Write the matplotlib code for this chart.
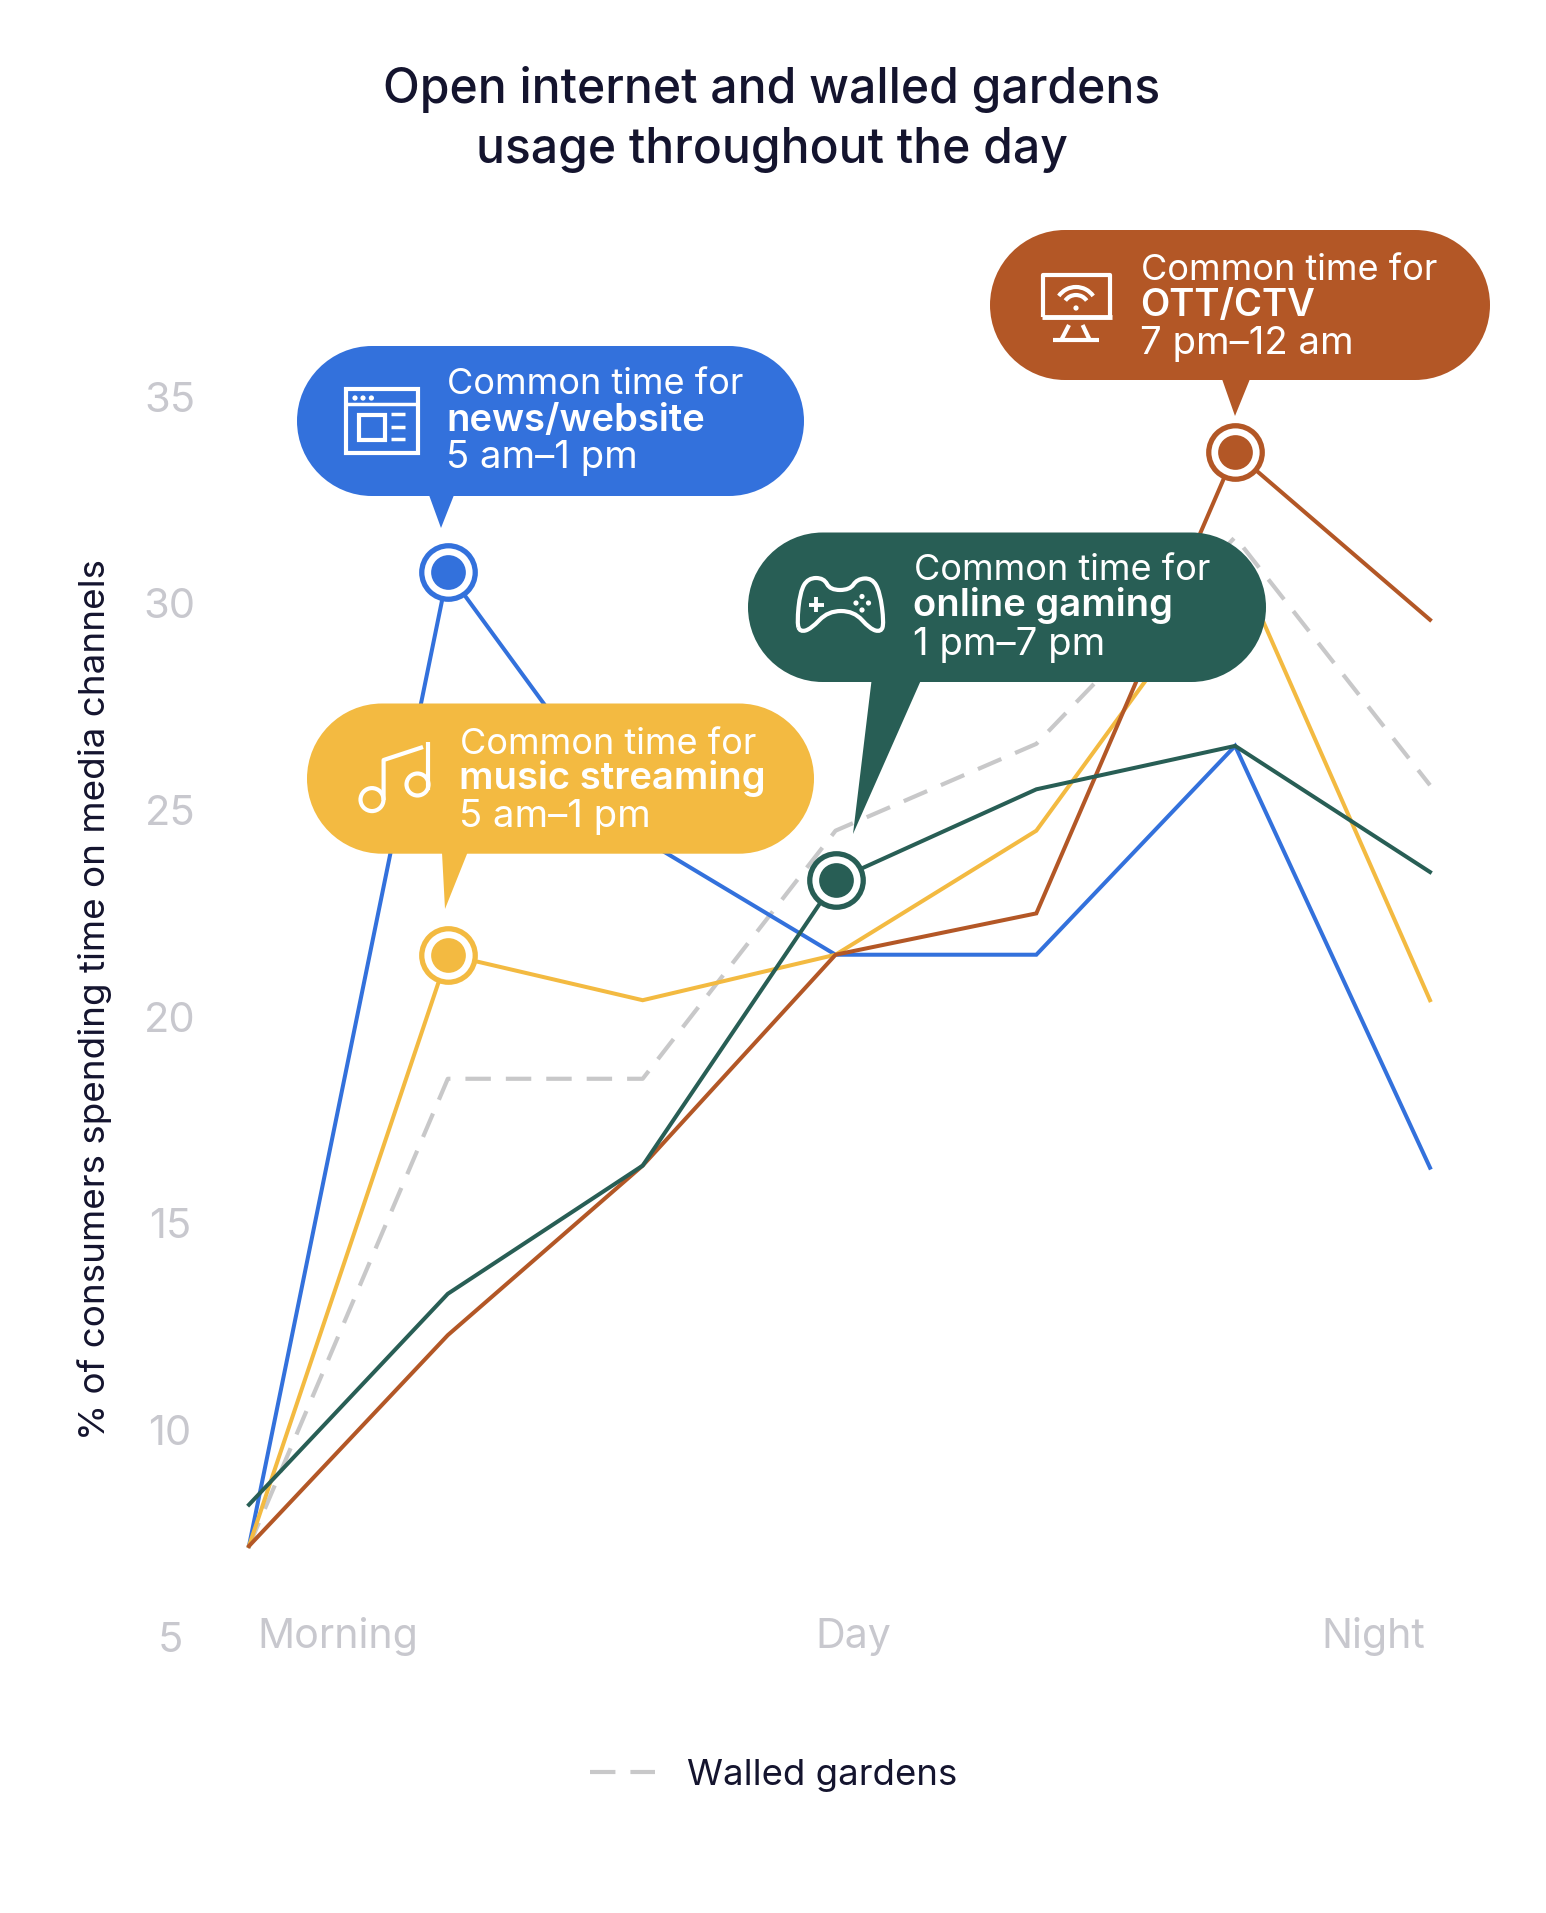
import numpy as np
import matplotlib
matplotlib.use('Agg')
import matplotlib.pyplot as plt
from matplotlib.patches import PathPatch, Polygon, Rectangle, Circle, Arc
from matplotlib.path import Path

W, H = 1546, 1913

# values
slots = [0, 1.01, 2, 2.98, 4, 5.01, 6]
news = [7.2, 30.75, 24.3, 21.5, 21.5, 26.55, 16.35]
music = [7.2, 21.5, 20.4, 21.5, 24.5, 31.1, 20.4]
gaming = [8.2, 13.3, 16.4, 23.3, 25.5, 26.55, 23.5]
ott = [7.2, 12.3, 16.4, 21.5, 22.5, 33.65, 29.6]
walled = [7.2, 18.5, 18.5, 24.5, 26.6, 31.6, 25.6]
y_ticks = [5, 10, 15, 20, 25, 30, 35]
x_labels = ['Morning', 'Day', 'Night']
x_label_pos = [0.452, 3.07, 5.71]

BLUE = '#3371DC'
YELLOW = '#F3BA41'
BROWN = '#B35726'
GREEN = '#285E55'
GRAY = '#C8C8C9'
TICK = '#C8C8CE'
DARK = '#14142E'

plt.rcParams['font.family'] = ['Inter', 'DejaVu Sans']

fig = plt.figure(figsize=(W / 100, H / 100), dpi=100, facecolor='white')
left, right, top, bottom = 249, 1430, 396.5, 1637
ax = fig.add_axes([left / W, 1 - bottom / H, (right - left) / W, (bottom - top) / H])
ax.set_xlim(0, 6)
ax.set_ylim(5, 35)
for s in ax.spines.values():
    s.set_visible(False)

ax.plot(slots, walled, color=GRAY, lw=3, dashes=(6.1, 3.6), clip_on=False, label='Walled gardens')
for vals, col in [(news, BLUE), (music, YELLOW), (ott, BROWN), (gaming, GREEN)]:
    ax.plot(slots, vals, color=col, lw=2.9, clip_on=False, solid_joinstyle='miter')

# ring markers at each peak
for i, vals, col in [(1, news, BLUE), (1, music, YELLOW), (3, gaming, GREEN), (5, ott, BROWN)]:
    ax.plot(slots[i], vals[i], 'o', ms=38.5, mfc='white', mec=col, mew=3.8, zorder=5, clip_on=False)
    ax.plot(slots[i], vals[i], 'o', ms=25, mfc=col, mec='none', zorder=6, clip_on=False)

ax.set_yticks(y_ticks)
ax.set_xticks(x_label_pos)
ax.set_xticklabels(x_labels)
ax.tick_params(axis='both', length=0, labelcolor=TICK)
ax.tick_params(axis='y', pad=57, labelsize=30)
ax.tick_params(axis='x', pad=8, labelsize=29.6)
for t in ax.get_yticklabels():
    t.set_ha('center')
for t in ax.get_xticklabels():
    t.set_va('baseline')

ax.set_ylabel('% of consumers spending time on media channels', fontsize=26.5, color=DARK)
ax.yaxis.set_label_coords((112 - left) / (right - left), (bottom - 1000) / (bottom - top))

leg = ax.legend(loc='center left', bbox_to_anchor=(590 / W, 1 - 1775 / H), bbox_transform=fig.transFigure,
                frameon=False, fontsize=26.3, handlelength=1.77, handletextpad=0.88, borderpad=0, borderaxespad=0,
                labelcolor=DARK)

# overlay in pixel coordinates for title, bubbles and icons
ov = fig.add_axes([0, 0, 1, 1], zorder=10)
ov.set_xlim(0, W)
ov.set_ylim(H, 0)
ov.axis('off')
ov.patch.set_alpha(0)

ov.text(772, 103, 'Open internet and walled gardens', fontsize=34.6, fontweight='medium', color=DARK,
        ha='center', va='baseline')
ov.text(772, 163, 'usage throughout the day', fontsize=34.6, fontweight='medium', color=DARK,
        ha='center', va='baseline')


def pill(x0, x1, y0, y1, col):
    # rounded ends drawn with cubic corners so they come out round, not squared
    r = (y1 - y0) / 2
    k = r * 0.45
    verts = [(x0 + r, y0), (x1 - r, y0),
             (x1 - k, y0), (x1, y0 + k), (x1, y0 + r),
             (x1, y1 - k), (x1 - k, y1), (x1 - r, y1),
             (x0 + r, y1),
             (x0 + k, y1), (x0, y1 - k), (x0, y1 - r),
             (x0, y0 + k), (x0 + k, y0), (x0 + r, y0)]
    codes = [Path.MOVETO, Path.LINETO,
             Path.CURVE4, Path.CURVE4, Path.CURVE4,
             Path.CURVE4, Path.CURVE4, Path.CURVE4,
             Path.LINETO,
             Path.CURVE4, Path.CURVE4, Path.CURVE4,
             Path.CURVE4, Path.CURVE4, Path.CURVE4]
    ov.add_patch(PathPatch(Path(verts, codes), fc=col, ec='none'))


def bubble(x0, x1, y0, y1, col, tail, tx, base, lines):
    pill(x0, x1, y0, y1, col)
    ov.add_patch(Polygon([(tail[0], y1 - 1), (tail[1], y1 - 1), (tail[2], tail[3])], fc=col, ec='none'))
    ov.text(tx, base[0], lines[0], fontsize=26, color='white', va='baseline')
    ov.text(tx - 1, base[1], lines[1], fontsize=27.5, color='white', va='baseline', fontweight='semibold')
    ov.text(tx - 1, base[2], lines[2], fontsize=27.6, color='white', va='baseline')


bubble(297, 804, 346, 496, BLUE, (429, 454, 441, 528), 447, (394, 431, 468),
       ['Common time for', 'news/website', '5 am\u20131 pm'])
bubble(307, 814, 703.5, 853.7, YELLOW, (442, 467.5, 445, 909), 460, (754, 789, 827),
       ['Common time for', 'music streaming', '5 am\u20131 pm'])
bubble(748, 1266, 532.5, 682, GREEN, (871.5, 920.6, 853, 834), 913.6, (580, 616, 655),
       ['Common time for', 'online gaming', '1 pm\u20137 pm'])
bubble(990, 1490, 230, 380, BROWN, (1222, 1250, 1235, 416), 1141, (280, 316, 354),
       ['Common time for', 'OTT/CTV', '7 pm\u201312 am'])


def seg(xs, ys, lw=2.5):
    ov.plot(xs, ys, color='white', lw=lw, solid_capstyle='butt', solid_joinstyle='round')


def box(x0, y0, x1, y1, lw=2.5):
    ov.add_patch(Rectangle((x0, y0), x1 - x0, y1 - y0, fc='none', ec='white', lw=lw))


# browser icon
box(346, 389, 417.5, 452.5, lw=3)
seg([346, 417.5], [404, 404])
for dx in [355, 363, 371.4]:
    ov.add_patch(Circle((dx, 398), 2.6, fc='white', ec='none'))
box(358.6, 415, 385.4, 440, lw=3)
for ly in [414, 427, 439]:
    seg([391.4, 405], [ly, ly])

# music icon
seg([383.6, 383.6, 423], [800, 760, 747], lw=3)
seg([428, 428], [742, 790], lw=3)
ov.add_patch(Circle((372, 799.6), 11.5, fc='none', ec='white', lw=3))
ov.add_patch(Circle((417.5, 784.5), 11, fc='none', ec='white', lw=3))

# screen icon
seg([1043, 1043, 1110, 1110], [317, 274.5, 274.5, 317], lw=3)
seg([1041.5, 1111.5], [317, 317], lw=3.5)
for r in [21, 13]:
    ov.add_patch(Arc((1076, 308), 2 * r, 2 * r, theta1=215, theta2=325, ec='white', lw=3))
ov.add_patch(Circle((1076, 308), 2.6, fc='white', ec='none'))
seg([1069, 1061.5], [325, 339.6], lw=3)
seg([1082.6, 1089.5], [325, 339.6], lw=3)
seg([1053, 1099], [339.6, 339.6], lw=3)

pad_pts = [(797, 623), (800, 592), (808, 578), (824, 578), (830, 590), (850, 590), (857, 579), (872, 578),
           (880, 592), (884, 623), (881, 632), (870, 629), (854, 611), (828, 611), (811, 629), (800, 632)]
mids = [((pad_pts[i][0] + pad_pts[(i + 1) % len(pad_pts)][0]) / 2,
         (pad_pts[i][1] + pad_pts[(i + 1) % len(pad_pts)][1]) / 2) for i in range(len(pad_pts))]
verts = [mids[-1]]
codes = [Path.MOVETO]
for p, m in zip(pad_pts, mids):
    verts += [p, m]
    codes += [Path.CURVE3, Path.CURVE3]
ov.add_patch(PathPatch(Path(verts, codes), fc='none', ec='white', lw=3))
seg([808.5, 824], [605, 605], lw=2.8)
seg([816.3, 816.3], [597, 612], lw=2.8)
for dx, dy in [(862, 596.5), (856, 603), (868.5, 603), (862, 610)]:
    ov.add_patch(Circle((dx, dy), 2.6, fc='white', ec='none'))

fig.savefig('out.png', dpi=100, facecolor='white')
